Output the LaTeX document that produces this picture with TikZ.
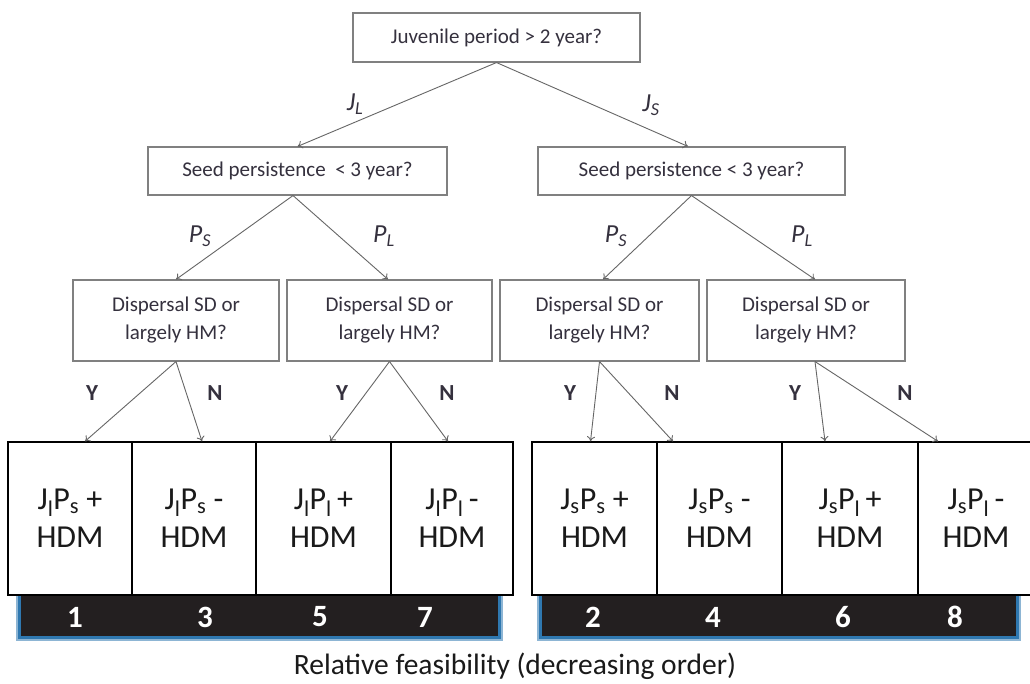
\documentclass[tikz,border=0pt]{standalone}
\usepackage{fontspec}
\setmainfont{Carlito}
\usetikzlibrary{arrows.meta}
\definecolor{boxgray}{HTML}{808080}
\definecolor{qtext}{HTML}{35313E}
\definecolor{arrowgray}{HTML}{666666}
\definecolor{celltext}{HTML}{1A1A1A}
\definecolor{barblack}{HTML}{231F20}
\definecolor{glow}{HTML}{2F78B0}
\begin{document}
\begin{tikzpicture}[x=1pt,y=-1pt,
 qbox/.style={draw=boxgray, line width=1.1pt, fill=white, inner sep=0pt, align=center, text=qtext, font=\fontsize{21}{28}\selectfont},
 cell/.style={draw=black, line width=1.3pt, fill=white, inner sep=0pt, minimum height=153pt, align=center, text=celltext, font=\fontsize{32}{38}\selectfont},
 conn/.style={draw=arrowgray, line width=0.9pt, -{To[length=5pt,width=8pt]}},
 blbl/.style={font=\fontsize{26}{30}\selectfont\itshape, text=qtext},
 yn/.style={font=\fontsize{23}{26}\selectfont\bfseries, text=qtext},
 num/.style={font=\fontsize{31}{34}\selectfont\bfseries, text=white},
 captxt/.style={font=\fontsize{29.5}{34}\selectfont, text=celltext},
]
\useasboundingbox (0,0) rectangle (1030,684);
\fill[white] (0,0) rectangle (1030,684);

% question boxes
\node[qbox, minimum width=287pt, minimum height=49pt] (top) at (496.5,37.5) {Juvenile period > 2 year?};
\node[qbox, minimum width=299pt, minimum height=48pt] (seedL) at (297.5,171) {Seed persistence \ < 3 year?};
\node[qbox, minimum width=307pt, minimum height=48pt] (seedR) at (691.5,171) {Seed persistence < 3 year?};
\node[qbox, minimum width=206pt, minimum height=81pt] (d1) at (176,320.5) {Dispersal SD or\\largely HM?};
\node[qbox, minimum width=205pt, minimum height=81pt] (d2) at (389.5,320.5) {Dispersal SD or\\largely HM?};
\node[qbox, minimum width=199pt, minimum height=81pt] (d3) at (599.5,320.5) {Dispersal SD or\\largely HM?};
\node[qbox, minimum width=198pt, minimum height=81pt] (d4) at (806,320.5) {Dispersal SD or\\largely HM?};

% bars with glow
\fill[glow!55] (16,595) rectangle (503,641);
\fill[glow] (18,595) rectangle (501,639);
\fill[barblack] (21,595) rectangle (498,636);
\fill[glow!55] (537,595) rectangle (1021,641);
\fill[glow] (539,595) rectangle (1019,639);
\fill[barblack] (542,595) rectangle (1016,636);

% outcome cells
\node[cell, minimum width=124pt] (c1) at (70,518.5) {J\textsubscript{l}P\textsubscript{s} +\\HDM};
\node[cell, minimum width=124pt] (c2) at (194,518.5) {J\textsubscript{l}P\textsubscript{s} -\\HDM};
\node[cell, minimum width=135pt] (c3) at (323.5,518.5) {J\textsubscript{l}P\textsubscript{l}\,+\\HDM};
\node[cell, minimum width=122pt] (c4) at (452,518.5) {J\textsubscript{l}P\textsubscript{l}\,-\\HDM};
\node[cell, minimum width=125pt] (c5) at (594.5,518.5) {J\textsubscript{s}P\textsubscript{s} +\\HDM};
\node[cell, minimum width=125pt] (c6) at (719.5,518.5) {J\textsubscript{s}P\textsubscript{s} -\\HDM};
\node[cell, minimum width=136pt] (c7) at (850,518.5) {J\textsubscript{s}P\textsubscript{l}\,+\\HDM};
\node[cell, minimum width=116pt] (c8) at (976,518.5) {J\textsubscript{s}P\textsubscript{l}\,-\\HDM};

% rank numbers
\node[num] (n1) at (75,617) {1};
\node[num] (n3) at (205,617) {3};
\node[num] (n5) at (320,617) {5};
\node[num] (n7) at (425,617) {7};
\node[num] (n2) at (593,617) {2};
\node[num] (n4) at (713,617) {4};
\node[num] (n6) at (843,617) {6};
\node[num] (n8) at (955,617) {8};

\node[captxt] (caption) at (515,666) {Relative feasibility (decreasing order)};

% connectors
\draw[conn] (top.south) -- (seedL.north);
\draw[conn] (top.south) -- ([xshift=-3.5pt]seedR.north);
\draw[conn] ([xshift=-4.5pt]seedL.south) -- (d1.north);
\draw[conn] ([xshift=-4.5pt]seedL.south) -- ([xshift=-1.5pt]d2.north);
\draw[conn] (seedR.south) -- ([xshift=3.5pt]d3.north);
\draw[conn] (seedR.south) -- ([xshift=9pt]d4.north);

\draw[conn] (d1.south) -- ([xshift=15pt]c1.north);
\draw[conn] (d1.south) -- ([xshift=8pt]c2.north);
\draw[conn] (d2.south) -- ([xshift=6.5pt]c3.north);
\draw[conn] (d2.south) -- ([xshift=-4pt]c4.north);
\draw[conn] (d3.south) -- ([xshift=-4pt]c5.north);
\draw[conn] (d3.south) -- ([xshift=-46.5pt]c6.north);
\draw[conn] ([xshift=9pt]d4.south) -- ([xshift=-25pt]c7.north);
\draw[conn] ([xshift=9pt]d4.south) -- ([xshift=-38pt]c8.north);

% branch labels
\node[blbl] (jl) at (355,104) {J\textsubscript{L}};
\node[blbl] (js) at (651,105) {J\textsubscript{S}};
\node[blbl] (ps1) at (200,236) {P\textsubscript{S}};
\node[blbl] (pl1) at (384,236) {P\textsubscript{L}};
\node[blbl] (ps2) at (616,236) {P\textsubscript{S}};
\node[blbl] (pl2) at (802,236) {P\textsubscript{L}};

\node[yn] (y1) at (92,393) {Y};
\node[yn] (nn1) at (215,393) {N};
\node[yn] (y2) at (342,393) {Y};
\node[yn] (nn2) at (447,393) {N};
\node[yn] (y3) at (570,393) {Y};
\node[yn] (nn3) at (672,393) {N};
\node[yn] (y4) at (795,393) {Y};
\node[yn] (nn4) at (905,393) {N};
\end{tikzpicture}
\end{document}
